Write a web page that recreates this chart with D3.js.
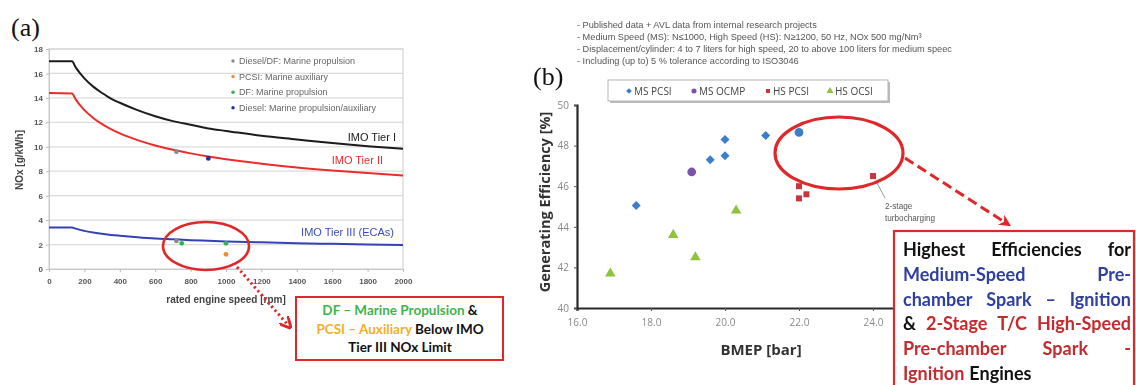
<!DOCTYPE html>
<html>
<head>
<meta charset="utf-8">
<script src="https://cdn.jsdelivr.net/npm/d3@7"></script>
<style>
  html, body { margin: 0; padding: 0; background: #fff; }
  svg { display: block; }
</style>
</head>
<body>
<svg id="fig" width="1136" height="385"></svg>
<script>
// ---------- Panel (a): IMO NOx limits vs rated engine speed ----------
const tierSpeeds = [0, 130, 150, 175, 200, 250, 300, 350, 400, 500, 600, 700, 800, 900, 1000, 1200, 1400, 1600, 1800, 2000];
const tier1NOx   = [17.0, 17.0, 16.52, 16.02, 15.6, 14.92, 14.4, 13.94, 13.6, 13.0, 12.5, 12.1, 11.8, 11.5, 11.3, 10.9, 10.6, 10.3, 10.05, 9.84];
const tier2NOx   = [14.4, 14.36, 13.90, 13.41, 13.0, 12.36, 11.85, 11.44, 11.09, 10.54, 10.10, 9.75, 9.46, 9.20, 8.98, 8.62, 8.31, 8.06, 7.85, 7.66];
const tier3NOx   = [3.4, 3.40, 3.30, 3.20, 3.12, 2.98, 2.88, 2.79, 2.72, 2.60, 2.50, 2.43, 2.36, 2.31, 2.26, 2.18, 2.11, 2.06, 2.01, 1.97];

const engineSeries = ["Diesel/DF: Marine propulsion", "PCSI: Marine auxiliary", "DF: Marine propulsion", "Diesel: Marine propulsion/auxiliary"];
const engineColors = ["#8a8a8a", "#f08a2a", "#2fb457", "#23309c"];
const engineSpeed  = [720, 720, 1000, 750, 1000, 900];
const engineNOx    = [9.6, 2.3, 1.2, 2.1, 2.1, 9.05];
const engineType   = [0, 0, 1, 2, 2, 3];

const speedTicks = [0, 200, 400, 600, 800, 1000, 1200, 1400, 1600, 1800, 2000];
const noxTicks   = [0, 2, 4, 6, 8, 10, 12, 14, 16, 18];

// ---------- Panel (b): efficiency vs BMEP ----------
const effSeries = ["MS PCSI", "MS OCMP", "HS PCSI", "HS OCSI"];
const effColors = ["#3a7fcc", "#7a52ad", "#c9353d", "#8cc43c"];
const msPcsiBmep = [17.6, 19.6, 20.0, 20.0, 21.1];
const msPcsiEff  = [45.05, 47.3, 48.3, 47.5, 48.5];
const msPcsiTopBmep = [22.0];
const msPcsiTopEff  = [48.65];
const msOcmpBmep = [19.1];
const msOcmpEff  = [46.7];
const hsPcsiBmep = [22.0, 22.0, 22.2, 24.0];
const hsPcsiEff  = [46.0, 45.4, 45.6, 46.5];
const hsOcsiBmep = [16.9, 18.6, 19.2, 20.3];
const hsOcsiEff  = [41.7, 43.6, 42.5, 44.8];

const bmepTicks = [16, 18, 20, 22, 24];
const effTicks  = [40, 42, 44, 46, 48, 50];

const notes = [
  "- Published data + AVL data from internal research projects",
  "- Medium Speed (MS): N\u22641000, High Speed (HS): N\u22651200, 50 Hz, NOx 500 mg/Nm\u00b3",
  "- Displacement/cylinder: 4 to 7 liters for high speed, 20 to above 100 liters for medium speec",
  "- Including (up to) 5 % tolerance according to ISO3046"
];

const svg = d3.select("#fig");
const RED = "#e0282a";

svg.append("defs").html(`
  <marker id="headA" viewBox="0 0 10 10" refX="6" refY="5" markerWidth="4" markerHeight="4" orient="auto">
    <path d="M0,0 L10,5 L0,10" fill="none" stroke="${RED}" stroke-width="2.4"/>
  </marker>
  <marker id="headB" viewBox="0 0 10 10" refX="5" refY="5" markerWidth="4" markerHeight="4" orient="auto">
    <path d="M0,0 L10,5 L0,10 L3,5 Z" fill="${RED}"/>
  </marker>
  <filter id="soft"><feGaussianBlur stdDeviation="0.35"/></filter>
`);

// ================= Panel (a) =================
const A = { left: 49, right: 403, top: 49, bottom: 269 };
const xA = d3.scaleLinear().domain([0, 2000]).range([A.left, A.right]);
const yA = d3.scaleLinear().domain([0, 18]).range([A.bottom, A.top]);
const gA = svg.append("g").attr("filter", "url(#soft)");

svg.append("text").attr("x", 11).attr("y", 36)
  .attr("font-family", "Liberation Serif").attr("font-size", 26).attr("fill", "#111").text("(a)");

// horizontal gridlines
gA.append("g").selectAll("line").data(noxTicks.filter(d => d > 0)).join("line")
  .attr("x1", A.left).attr("x2", A.right)
  .attr("y1", d => yA(d)).attr("y2", d => yA(d))
  .attr("stroke", "#dcdcdc").attr("stroke-width", 1.2);
// plot frame
gA.append("rect").attr("x", A.left).attr("y", A.top)
  .attr("width", A.right - A.left).attr("height", A.bottom - A.top)
  .attr("fill", "none").attr("stroke", "#d4d4d4").attr("stroke-width", 1.2);

// axes
const axA = gA.append("g").attr("transform", `translate(0,${A.bottom})`)
  .call(d3.axisBottom(xA).tickValues(speedTicks).tickSize(3).tickFormat(d3.format("d")));
const ayA = gA.append("g").attr("transform", `translate(${A.left},0)`)
  .call(d3.axisLeft(yA).tickValues(noxTicks).tickSize(3).tickFormat(d3.format("d")));
[axA, ayA].forEach(ax => {
  ax.select(".domain").attr("stroke", "#c8c8c8");
  ax.selectAll(".tick line").attr("stroke", "#bbb");
  ax.selectAll("text").attr("font-family", "Liberation Sans").attr("font-size", 8)
    .attr("font-weight", "bold").attr("fill", "#555");
});
axA.selectAll("text").attr("dy", "1.1em");

gA.append("text").attr("x", 226).attr("y", 303).attr("text-anchor", "middle")
  .attr("font-family", "Liberation Sans").attr("font-size", 10).attr("font-weight", "bold")
  .attr("fill", "#444").text("rated engine speed [rpm]");
gA.append("text").attr("transform", "translate(23,160) rotate(-90)").attr("text-anchor", "middle")
  .attr("font-family", "Liberation Sans").attr("font-size", 10).attr("font-weight", "bold")
  .attr("fill", "#444").text("NOx [g/kWh]");

// IMO limit curves
const tierLine = d3.line().x(d => xA(d[0])).y(d => yA(d[1])).curve(d3.curveMonotoneX);
const tiers = [
  { v: tier1NOx, color: "#1b1b1b" },
  { v: tier2NOx, color: "#ee2b2b" },
  { v: tier3NOx, color: "#3442b4" }
];
tiers.forEach(t => {
  gA.append("path").datum(d3.zip(tierSpeeds, t.v)).attr("d", tierLine)
    .attr("fill", "none").attr("stroke", t.color).attr("stroke-width", 2);
});
const tierLabel = (txt, x, y, c) => gA.append("text").attr("x", x).attr("y", y)
  .attr("text-anchor", "end").attr("font-family", "Liberation Sans").attr("font-size", 11)
  .attr("fill", c).text(txt);
tierLabel("IMO Tier I", 396, 141, "#222");
tierLabel("IMO Tier II", 383, 164, "#ee2b2b");
tierLabel("IMO Tier III (ECAs)", 394, 236, "#3d4cc0");

// engine data points
gA.append("g").selectAll("circle").data(d3.range(engineSpeed.length)).join("circle")
  .attr("cx", i => xA(engineSpeed[i])).attr("cy", i => yA(engineNOx[i])).attr("r", 2.4)
  .attr("fill", i => engineColors[engineType[i]]);

// legend
const legA = gA.append("g");
engineSeries.forEach((s, i) => {
  const y = 61 + i * 15.6;
  legA.append("circle").attr("cx", 233).attr("cy", y).attr("r", 1.7).attr("fill", engineColors[i]);
  legA.append("text").attr("x", 239).attr("y", y + 3).attr("font-family", "Liberation Sans")
    .attr("font-size", 9).attr("fill", "#666").text(s);
});

// highlight ellipse + dotted arrow + callout
svg.append("ellipse").attr("cx", 206).attr("cy", 246).attr("rx", 43).attr("ry", 24)
  .attr("fill", "none").attr("stroke", RED).attr("stroke-width", 2.6);
svg.append("line").attr("x1", 237).attr("y1", 267).attr("x2", 288).attr("y2", 325)
  .attr("stroke", RED).attr("stroke-width", 3).attr("stroke-dasharray", "2.2,3")
  .attr("marker-end", "url(#headA)");
svg.append("rect").attr("x", 296).attr("y", 297).attr("width", 207).attr("height", 63)
  .attr("fill", "#fff").attr("stroke", RED).attr("stroke-width", 2);
const calloutA = [
  [["DF \u2013 Marine Propulsion", "#3cb54c"], [" &", "#111"]],
  [["PCSI \u2013 Auxiliary", "#f2b024"], [" Below IMO", "#111"]],
  [["Tier III NOx Limit", "#111"]]
];
calloutA.forEach((parts, i) => {
  const t = svg.append("text").attr("x", 400).attr("y", 315 + i * 18.5).attr("text-anchor", "middle")
    .attr("font-family", "Lato").attr("font-weight", "bold").attr("font-size", 13.5);
  parts.forEach(p => t.append("tspan").attr("fill", p[1]).text(p[0]));
});

// ================= Panel (b) =================
const B = { left: 577, right: 947, top: 105, bottom: 308 };
const xB = d3.scaleLinear().domain([16, 26]).range([B.left, B.right]);
const yB = d3.scaleLinear().domain([40, 50]).range([B.bottom, B.top]);
const gB = svg.append("g").attr("filter", "url(#soft)");

svg.append("text").attr("x", 533).attr("y", 85)
  .attr("font-family", "Liberation Serif").attr("font-size", 26).attr("fill", "#111").text("(b)");

notes.forEach((n, i) => {
  gB.append("text").attr("x", 577).attr("y", 27.5 + i * 12.3).attr("font-family", "Liberation Sans")
    .attr("font-size", 9.2).attr("fill", "#555").text(n);
});

// legend box
gB.append("rect").attr("x", 610).attr("y", 82).attr("width", 280).attr("height", 21)
  .attr("fill", "#bbb");
gB.append("rect").attr("x", 608).attr("y", 80).attr("width", 280).attr("height", 21)
  .attr("fill", "#fff").attr("stroke", "#b5b5b5").attr("stroke-width", 1);

// marker shapes: diamond drawn as a square turned 45 degrees
const sym = [d3.symbolSquare, d3.symbolCircle, d3.symbolSquare, d3.symbolTriangle];
const rot = [45, 0, 0, 0];
const legX = [629, 694, 768, 830];
const legSize = [16, 20, 16, 22];
effSeries.forEach((s, i) => {
  gB.append("path").attr("d", d3.symbol(sym[i], legSize[i])())
    .attr("transform", `translate(${legX[i]},91) rotate(${rot[i]})`).attr("fill", effColors[i]);
  gB.append("text").attr("x", legX[i] + 5).attr("y", 95).attr("font-family", "Open Sans")
    .attr("font-size", 10).attr("fill", "#444").text(s);
});

// axes
const axB = gB.append("g").attr("transform", `translate(0,${B.bottom})`)
  .call(d3.axisBottom(xB).tickValues(bmepTicks).tickSize(3).tickFormat(d3.format(".1f")));
const ayB = gB.append("g").attr("transform", `translate(${B.left},0)`)
  .call(d3.axisLeft(yB).tickValues(effTicks).tickSize(3).tickFormat(d3.format("d")));
[axB, ayB].forEach(ax => {
  ax.select(".domain").attr("stroke", "#2a2a2a").attr("stroke-width", 2.2);
  ax.selectAll(".tick line").attr("stroke", "#555");
  ax.selectAll("text").attr("font-family", "Open Sans").attr("font-size", 10).attr("fill", "#888");
});
axB.selectAll("text").attr("dy", "1.2em");
ayB.selectAll("text").attr("dx", "-0.2em");

gB.append("text").attr("x", 761).attr("y", 355).attr("text-anchor", "middle")
  .attr("font-family", "Open Sans").attr("font-weight", "bold").attr("font-size", 15)
  .attr("fill", "#333").text("BMEP [bar]");
gB.append("text").attr("transform", "translate(550,202) rotate(-90)").attr("text-anchor", "middle")
  .attr("font-family", "Open Sans").attr("font-weight", "bold").attr("font-size", 14.5)
  .attr("fill", "#333").text("Generating Efficiency [%]");

// scatter marks
const groups = [
  { x: msPcsiBmep, y: msPcsiEff, s: d3.symbolSquare, size: 40, r: 45, c: effColors[0] },
  { x: msPcsiTopBmep, y: msPcsiTopEff, s: d3.symbolCircle, size: 60, r: 0, c: effColors[0] },
  { x: msOcmpBmep, y: msOcmpEff, s: d3.symbolCircle, size: 60, r: 0, c: effColors[1] },
  { x: hsPcsiBmep, y: hsPcsiEff, s: d3.symbolSquare, size: 36, r: 0, c: effColors[2] },
  { x: hsOcsiBmep, y: hsOcsiEff, s: d3.symbolTriangle, size: 48, r: 0, c: effColors[3] }
];
groups.forEach(g => {
  gB.append("g").selectAll("path").data(d3.zip(g.x, g.y)).join("path")
    .attr("d", d3.symbol(g.s, g.size)())
    .attr("transform", d => `translate(${xB(d[0])},${yB(d[1])}) rotate(${g.r})`)
    .attr("fill", g.c);
});

// 2-stage turbocharging note
gB.append("line").attr("x1", xB(24.0) + 3).attr("y1", yB(46.5) + 5).attr("x2", 885).attr("y2", 198)
  .attr("stroke", "#999").attr("stroke-width", 1);
["2-stage", "turbocharging"].forEach((t, i) => {
  gB.append("text").attr("x", 885).attr("y", 209 + i * 12).attr("font-family", "Liberation Sans")
    .attr("font-size", 8.2).attr("fill", "#555").text(t);
});

// highlight ellipse + dashed arrow
svg.append("ellipse").attr("cx", 839).attr("cy", 153).attr("rx", 64).attr("ry", 36)
  .attr("fill", "none").attr("stroke", RED).attr("stroke-width", 3.2);
svg.append("line").attr("x1", 905).attr("y1", 158).attr("x2", 1006).attr("y2", 223)
  .attr("stroke", RED).attr("stroke-width", 3).attr("stroke-dasharray", "10,5")
  .attr("marker-end", "url(#headB)");

// callout box with justified text
svg.append("rect").attr("x", 894).attr("y", 231).attr("width", 240).attr("height", 170)
  .attr("fill", "#fff").attr("stroke", RED).attr("stroke-width", 2.2);
const BLK = "#111", BLU = "#2f3f9e", RD = "#c42a2e";
const calloutB = [
  [["Highest", BLK], ["Efficiencies", BLK], ["for", BLK]],
  [["Medium-Speed", BLU], ["Pre-", BLU]],
  [["chamber", BLU], ["Spark", BLU], ["\u2013", BLU], ["Ignition", BLU]],
  [["&", BLK], ["2-Stage", RD], ["T/C", RD], ["High-Speed", RD]],
  [["Pre-chamber", RD], ["Spark", RD], ["-", RD]],
  [["Ignition", RD], ["Engines", BLK]]
];
const tx0 = 903, tx1 = 1131;
calloutB.forEach((words, li) => {
  const y = 256 + li * 24.8;
  const nodes = words.map(w => svg.append("text").attr("y", y)
    .attr("font-family", "Lato").attr("font-weight", "bold").attr("font-size", 18)
    .attr("fill", w[1]).text(w[0]));
  const widths = nodes.map(n => n.node().getComputedTextLength());
  const last = li === calloutB.length - 1;
  const gap = last ? 5 : Math.max(4, (tx1 - tx0 - d3.sum(widths)) / (words.length - 1));
  let x = tx0;
  nodes.forEach((n, i) => { n.attr("x", x); x += widths[i] + gap; });
});
</script>
</body>
</html>
